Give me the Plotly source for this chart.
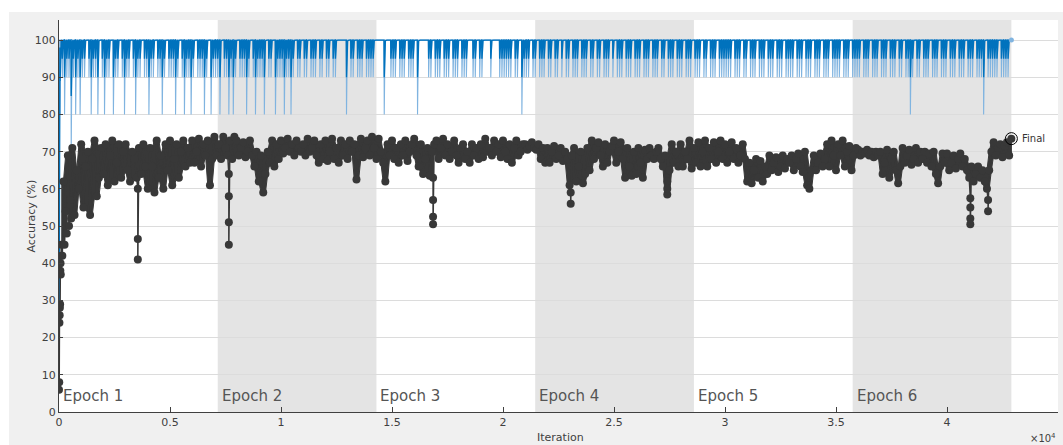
import plotly.graph_objects as go

# ---------------- data ----------------
iters_per_epoch = 7150
num_epochs = 6
final_iter = 42900

# training (mini-batch) accuracy: first few iterations, then one code per 100 iterations
raw_early_iter = [0, 2, 4, 6, 8]
raw_early_acc = [10, 40, 60, 70, 80]
# code per 100-iteration bucket: '0' -> stays at 100, '9' -> dips to 90, '8' -> 80, '7' -> 70
raw_dip_codes = [
    "8989979898" "9909899809" "8990899098" "9909899099" "8990998909",
    "9989098998" "9099989089" "9980998989" "0999890989" "9980990899",
    "9899890990" "9909990990" "9909900008" "0990999099" "9900008009",
    "9909990999" "0800009909" "9909990999" "0999009909" "9000900099",
    "9999099089" "9909909990" "9909909099" "0999099909" "9099099909",
    "0999099909" "9909990999" "0990999099" "9099909990" "9909990999",
    "9990999099" "0999099909" "9909990999" "9099909990" "9990999099",
    "9909990999" "9099909990" "9990999099" "0998909909" "9909990999",
    "0999099909" "9909998099" "999099990",
]
smoothing = 0.5

# validation accuracy, one value every 100 iterations (0 ... 42900)
val_step = 100
val_acc = [
    6, 45, 62, 54, 69, 57, 71, 53, 65, 60,
    72, 55, 66, 70, 53, 68, 73, 58, 63, 71,
    64, 72, 61, 69, 73, 62, 67, 72, 63, 70,
    72, 65, 62, 70, 68, 63, 71, 64, 72, 66,
    60, 71, 66, 59, 73, 63, 69, 60, 72, 65,
    73, 61, 68, 72, 63, 70, 73, 66, 71, 67,
    73, 67, 70, 73.5, 66, 72, 69, 73, 61, 68,
    74, 69, 72, 68, 74, 71, 69, 73, 68, 74,
    73, 69, 71, 72.5, 68.5, 70, 73, 69, 66, 70,
    62, 69, 59, 64, 70, 67, 73, 66, 72, 68,
    73, 69.5, 71, 73.5, 70, 72, 69, 73, 71, 70,
    72, 69, 73.5, 70, 71, 73, 69, 67, 72, 68,
    73, 67.5, 70, 73.5, 68, 71, 67, 73, 69, 72,
    68, 73, 70, 72, 62.5, 69, 73.5, 68.5, 71, 73,
    69, 74, 71, 68, 73.5, 70, 67, 62, 72, 69,
    73, 68, 71, 67, 72, 69, 73, 67.5, 70, 72,
    73.5, 69, 66, 72, 64, 68, 71, 63.5, 70, 72,
    73, 68, 71, 73.5, 69, 72, 68, 70, 73, 69,
    67, 71, 72, 68, 70, 67, 72, 69, 71, 68,
    72, 68.5, 73.5, 70, 71, 69, 73, 70, 72, 68.5,
    73, 70, 68, 72, 67, 71, 73, 69, 70, 72,
    72, 70.5, 71.5, 72.5, 71, 70.5, 72, 68, 71, 67,
    71, 67, 70, 71.5, 68, 69, 71, 67.5, 70, 68,
    61, 69, 71, 62, 66, 70, 61.5, 64, 71, 65,
    73, 68, 71, 72.5, 69, 66, 72, 67, 70, 71.5,
    73, 67, 70, 72.5, 68, 63, 71, 66, 63.5, 70,
    64, 71, 67, 63, 70.5, 68, 71, 69, 68, 70,
    71, 68, 66, 69, 58.5, 65, 72, 67, 70, 66,
    72, 66, 70, 68, 73, 65.5, 71, 67, 72.5, 66,
    70, 73, 66, 71, 68, 72.5, 67, 70, 73, 68,
    72, 67, 70, 72.5, 68, 71, 67, 69, 72, 68,
    62, 67, 61.5, 65, 68, 63, 67.5, 62, 66, 64,
    69, 65, 67, 68.5, 64.5, 66, 69, 65.5, 68, 67,
    69, 65, 68, 69.5, 66, 64.5, 70, 61, 60, 65,
    69, 65, 67, 69.5, 66, 68, 72, 66, 73, 69,
    65, 72, 69, 73, 66, 70, 71.5, 65, 69, 71,
    70.5, 69, 70, 69.5, 70.5, 69, 70, 68.5, 70, 69,
    70, 64, 67, 70.5, 63, 68, 70, 65, 61.5, 66,
    71, 67, 69, 70.5, 66.5, 68, 71, 67, 70, 68,
    70, 67, 69.5, 66, 70, 64, 61.5, 66, 69.5, 67,
    69.5, 65, 67, 69, 65.5, 68, 69.5, 66, 68, 65,
    63, 66, 62, 64, 66, 63, 65, 62, 60, 65,
    70, 72.5, 69, 71, 72, 68.5, 71.5, 72.5, 69, 73.5,
]
# extra validation points: the very first iterations and the downward spikes
val_extra_iter = [10, 20, 30, 40, 50, 60, 70, 80, 90, 150, 250, 350, 450, 550,
                  3550, 3550, 3550, 7650, 7650, 7650, 7650,
                  16850, 16850, 16850, 16850, 23050, 23050, 27400, 27400,
                  41050, 41050, 41050, 41050, 41850, 41850]
val_extra_acc = [8, 24, 26, 28, 29, 38, 40, 37, 42, 42, 45, 48, 50, 52,
                 60, 46.5, 41, 64, 58, 51, 45,
                 63, 57, 52.5, 50.5, 59, 56, 62, 60,
                 57.5, 55, 52, 50.5, 57, 54]
final_val = 73.5
final_train = 100

x_tick_vals = [0, 5000, 10000, 15000, 20000, 25000, 30000, 35000, 40000, 45000]
x_tick_text = ["0", "0.5", "1", "1.5", "2", "2.5", "3", "3.5", "4", "4.5"]
y_tick_vals = [0, 10, 20, 30, 40, 50, 60, 70, 80, 90, 100]

# ---------------- build series ----------------
codes = "".join(raw_dip_codes)
raw_x = list(raw_early_iter)
raw_y = list(raw_early_acc)
for j, c in enumerate(codes):
    dip = 100 if c == "0" else 10 * int(c)
    for k in range(1, 11):
        raw_x.append(100 * j + 10 * k)
        raw_y.append(dip if k == 5 else 100)

smooth_y = []
s = raw_y[0]
for v in raw_y:
    s = smoothing * v + (1 - smoothing) * s
    smooth_y.append(s)

val_iter = [val_step * i for i in range(len(val_acc))]
pts = sorted(list(zip(val_iter, val_acc)) + list(zip(val_extra_iter, val_extra_acc)),
             key=lambda p: p[0])
vx = [p[0] for p in pts]
vy = [p[1] for p in pts]

# local range of the validation samples (neighbouring samples overlap into a band)
band_start = 1
bx, bhi, blo = [], [], []
for i in range(band_start, len(val_acc)):
    lo_i = max(band_start, i - 1)
    hi_i = min(len(val_acc), i + 2)
    window = val_acc[lo_i:hi_i]
    bx.append(val_iter[i])
    bhi.append(max(window))
    blo.append(min(window))

# ---------------- figure ----------------
W, H = 1063, 445
ML, MR, MT, MB = 59, 5, 20, 33
PW, PH = W - ML - MR, H - MT - MB
VCOL = "#383838"

fig = go.Figure()
fig.add_trace(go.Scatter(x=raw_x, y=raw_y, mode="lines",
                         line=dict(color="rgb(128,180,224)", width=1.1),
                         hoverinfo="skip", showlegend=False))
fig.add_trace(go.Scatter(x=raw_x, y=smooth_y, mode="lines",
                         line=dict(color="#0072BD", width=1.4),
                         hoverinfo="skip", showlegend=False))
fig.add_trace(go.Scatter(x=bx + bx[::-1], y=bhi + blo[::-1], mode="lines",
                         fill="toself", fillcolor=VCOL, line=dict(color=VCOL, width=1),
                         hoverinfo="skip", showlegend=False))
fig.add_trace(go.Scatter(x=vx, y=vy, mode="lines+markers",
                         line=dict(color=VCOL, width=1.5),
                         marker=dict(color=VCOL, size=8, line=dict(width=0)),
                         showlegend=False))
fig.add_trace(go.Scatter(x=[final_iter], y=[final_train], mode="markers",
                         marker=dict(color="rgb(128,180,224)", size=5),
                         showlegend=False))
fig.add_trace(go.Scatter(x=[final_iter], y=[final_val], mode="markers",
                         marker=dict(color="rgba(0,0,0,0)", size=12,
                                     line=dict(color="black", width=1)),
                         showlegend=False))

shapes = []
for k in range(num_epochs):
    if k % 2 == 1:
        shapes.append(dict(type="rect", xref="x", yref="paper",
                           x0=k * iters_per_epoch, x1=(k + 1) * iters_per_epoch,
                           y0=0, y1=1, fillcolor="#e4e4e4", line=dict(width=0),
                           layer="below"))
# white outer strips (top and left) around the light-gray panel
shapes.append(dict(type="rect", xref="paper", yref="paper",
                   x0=-ML / PW, x1=(W - ML) / PW, y0=(H - MB - 12) / PH, y1=(H - MB) / PH,
                   fillcolor="white", line=dict(width=0), layer="below"))
shapes.append(dict(type="rect", xref="paper", yref="paper",
                   x0=-ML / PW, x1=(9 - ML) / PW, y0=-MB / PH, y1=(H - MB) / PH,
                   fillcolor="white", line=dict(width=0), layer="below"))

annotations = []
for k in range(num_epochs):
    annotations.append(dict(x=k * iters_per_epoch, y=4.3, xref="x", yref="y",
                            text=f"Epoch {k + 1}", showarrow=False, xanchor="left",
                            yanchor="middle", xshift=2,
                            font=dict(size=15, color="#555555")))
annotations.append(dict(x=final_iter, y=final_val, xref="x", yref="y", text="Final",
                        showarrow=False, xanchor="left", yanchor="middle", xshift=9,
                        font=dict(size=10, color="#333333")))
annotations.append(dict(x=-37 / PW, y=0.5, xref="paper", yref="paper",
                        text="Accuracy (%)", textangle=-90, showarrow=False,
                        font=dict(size=11, color="#404040")))
annotations.append(dict(x=(560 - ML) / PW, y=(H - MB - 437) / PH, xref="paper", yref="paper",
                        text="Iteration", showarrow=False, yanchor="middle",
                        font=dict(size=11, color="#404040")))
annotations.append(dict(x=1.0, y=(H - MB - 438) / PH, xref="paper", yref="paper",
                        text="×10<sup>4</sup>", showarrow=False, xanchor="right",
                        yanchor="middle", font=dict(size=10, color="#404040")))

fig.update_layout(
    width=W, height=H,
    margin=dict(l=ML, r=MR, t=MT, b=MB),
    paper_bgcolor="#f0f0f0", plot_bgcolor="white",
    font=dict(family="DejaVu Sans", size=11, color="#404040"),
    shapes=shapes, annotations=annotations, showlegend=False,
    xaxis=dict(range=[0, 45000], tickvals=x_tick_vals, ticktext=x_tick_text,
               ticks="inside", ticklen=5, tickcolor="#404040", showgrid=False,
               showline=True, linecolor="#404040", linewidth=1, zeroline=False,
               tickfont=dict(size=11, color="#404040")),
    yaxis=dict(range=[0, 105.4], tickvals=y_tick_vals, ticks="inside", ticklen=4,
               tickcolor="#404040", showgrid=True, gridcolor="#dcdcdc", gridwidth=1,
               showline=True, linecolor="#404040", linewidth=1, zeroline=False,
               tickfont=dict(size=11, color="#404040")),
)

fig.write_html("out.html")
